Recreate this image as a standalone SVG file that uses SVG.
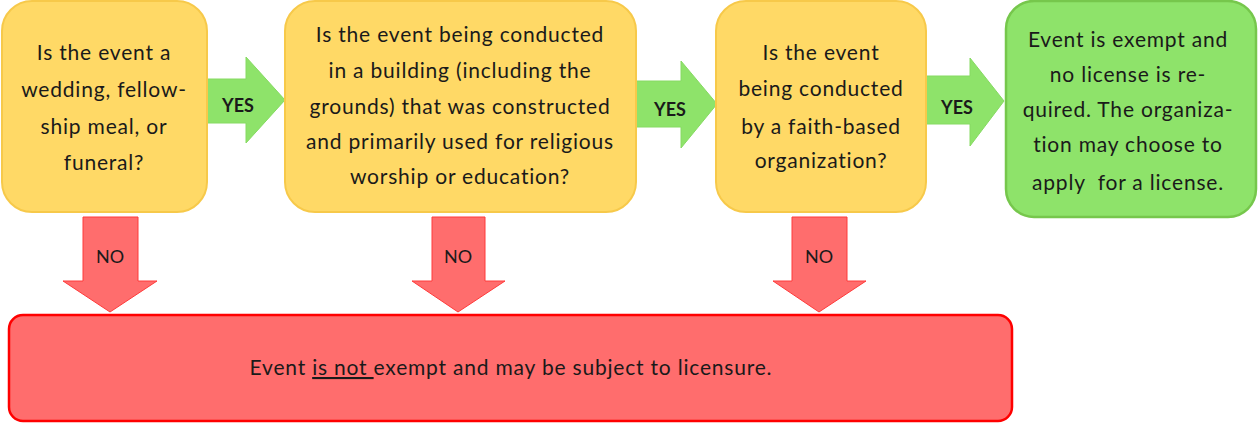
<svg xmlns="http://www.w3.org/2000/svg" width="1258" height="424" viewBox="0 0 1258 424">
<style>
.q{fill:#FFD966;stroke:#F7C94A;stroke-width:2}
.ok{fill:#8EE36A;stroke:#76C74C;stroke-width:2.5}
.bad{fill:#FF6D6D;stroke:#FF0000;stroke-width:2.5}
.yes{fill:#8EE36A;stroke:#86DA62;stroke-width:1}
.no{fill:#FF6D6D;stroke:#FF3A3A;stroke-width:1}
text{font-family:Lato,"Liberation Sans",sans-serif;fill:#1a1a1a;text-anchor:middle}
.t{font-size:21px;letter-spacing:0.8px}
.lbl{font-size:18px;font-weight:bold}
.nl{font-size:18px}
</style>
<g id="connectors">
<g id="yes1"><path class="yes" d="M207 79 H246 V57 L285 100 L246 143 V123 H207 Z"/><text class="lbl" x="238" y="112">YES</text></g>
<g id="yes2"><path class="yes" d="M636 81 H681 V61 L717 104 L681 148 V127 H636 Z"/><text class="lbl" x="670" y="116">YES</text></g>
<g id="yes3"><path class="yes" d="M926 76 H970 V58 L1004 101 L970 146 V124 H926 Z"/><text class="lbl" x="957" y="114">YES</text></g>
<g id="no1"><path class="no" d="M83 217 H138 V281 H157 L110 312 L63 281 H83 Z"/><text class="nl" x="110" y="263">NO</text></g>
<g id="no2"><path class="no" d="M432 217 H485 V281 H505 L458 312 L412 281 H432 Z"/><text class="nl" x="458" y="263">NO</text></g>
<g id="no3"><path class="no" d="M792 217 H847 V281 H866 L819 312 L773 281 H792 Z"/><text class="nl" x="819" y="263">NO</text></g>
</g>
<g id="q1"><rect class="q" x="2" y="1" width="205" height="211" rx="30"/>
<text class="t" x="104"><tspan x="104" y="60">Is the event a</tspan><tspan x="104" y="97">wedding, fellow-</tspan><tspan x="104" y="134">ship meal, or</tspan><tspan x="104" y="170">funeral?</tspan></text></g>
<g id="q2"><rect class="q" x="285" y="1" width="351" height="211" rx="30"/>
<text class="t" x="460"><tspan x="460" y="42">Is the event being conducted</tspan><tspan x="460" y="78">in a building (including the</tspan><tspan x="460" y="114">grounds) that was constructed</tspan><tspan x="460" y="149">and primarily used for religious</tspan><tspan x="460" y="184">worship or education?</tspan></text></g>
<g id="q3"><rect class="q" x="716" y="1" width="210" height="211" rx="30"/>
<text class="t" x="821"><tspan x="821" y="60">Is the event</tspan><tspan x="821" y="96">being conducted</tspan><tspan x="821" y="134">by a faith-based</tspan><tspan x="821" y="168">organization?</tspan></text></g>
<g id="exempt"><rect class="ok" x="1006" y="1" width="250" height="216" rx="28"/>
<text class="t" x="1128"><tspan x="1128" y="47">Event is exempt and</tspan><tspan x="1128" y="82">no license is re-</tspan><tspan x="1128" y="117">quired. The organiza-</tspan><tspan x="1128" y="152">tion may choose to</tspan><tspan x="1128" y="190">apply&#160; for a license.</tspan></text></g>
<g id="notexempt"><rect class="bad" x="9" y="315" width="1003" height="106" rx="14"/>
<text class="t" x="511" y="375">Event <tspan text-decoration="underline">is not </tspan>exempt and may be subject to licensure.</text></g>
</svg>
